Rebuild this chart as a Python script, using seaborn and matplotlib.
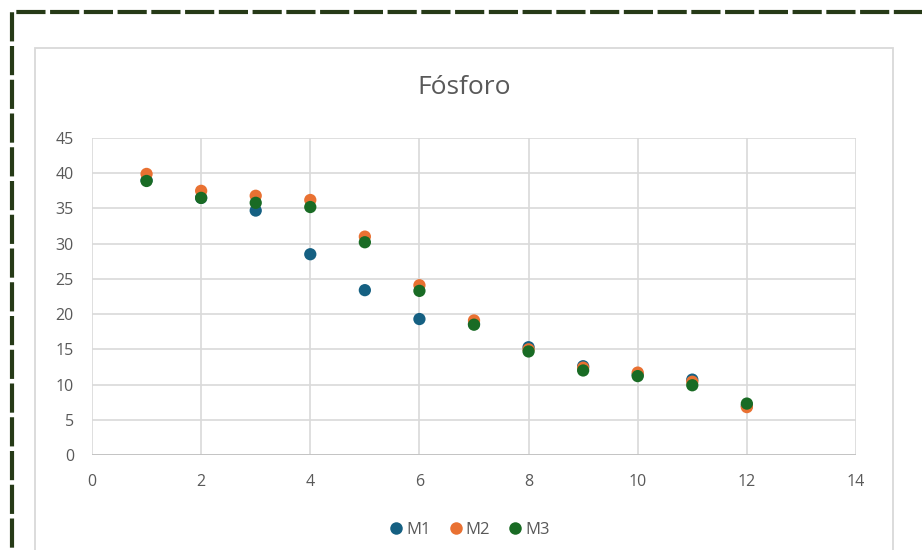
import pandas as pd
import numpy as np
import matplotlib.pyplot as plt
import seaborn as sns
from matplotlib.patches import Rectangle
from matplotlib.lines import Line2D

# --- data ---
x_vals = [1, 2, 3, 4, 5, 6, 7, 8, 9, 10, 11, 12]
m1 = [39.0, 36.5, 34.7, 28.5, 23.4, 19.3, 18.6, 15.3, 12.6, 11.4, 10.7, 7.0]
m2 = [39.9, 37.5, 36.8, 36.2, 31.0, 24.1, 19.1, 15.0, 12.4, 11.7, 10.4, 6.8]
m3 = [38.9, 36.5, 35.8, 35.2, 30.2, 23.3, 18.5, 14.7, 12.0, 11.2, 9.9, 7.3]
series_names = ["M1", "M2", "M3"]
colors = ["#156082", "#E97132", "#196B24"]
title = "Fósforo"

sns.set_theme(style="whitegrid")
plt.rcParams['font.family'] = ['Open Sans', 'DejaVu Sans']

df = pd.DataFrame({
    "x": x_vals * 3,
    "y": m1 + m2 + m3,
    "serie": np.repeat(series_names, len(x_vals)),
})

fig = plt.figure(figsize=(9.22, 5.5), dpi=100)
fig.patch.set_facecolor("white")

# outer dashed frame and chart area border
fig.patches.append(Rectangle((12 / 922, -0.2), 1.2, 1 - 12 / 550 + 0.2,
                             transform=fig.transFigure, fill=False,
                             edgecolor="#263A17", lw=3.0, linestyle=(0, (7, 1.1)),
                             zorder=0))
fig.patches.append(Rectangle((35 / 922, -0.2), (893 - 35) / 922, 1 - 48 / 550 + 0.2,
                             transform=fig.transFigure, fill=False,
                             edgecolor="#D9D9D9", lw=1.3, zorder=0))

ax = fig.add_axes([92 / 922, 95 / 550, (856 - 92) / 922, (455 - 138) / 550])
sns.scatterplot(data=df, x="x", y="y", hue="serie", palette=colors,
                s=78, edgecolor="none", legend=False, ax=ax, zorder=3)

ax.set_xlim(0, 14)
ax.set_ylim(0, 45)
ax.set_xticks(range(0, 15, 2))
ax.set_yticks(range(0, 46, 5))
ax.set_xlabel("")
ax.set_ylabel("")
ax.grid(True, color="#D9D9D9", lw=1.2)
for s in ax.spines.values():
    s.set_visible(False)
ax.axhline(0, color="#BFBFBF", lw=1.2, zorder=2)
ax.tick_params(axis="both", length=0, labelsize=11.5, labelcolor="#595959")
ax.tick_params(axis="y", pad=13)
ax.tick_params(axis="x", pad=14)

fig.text(464 / 922, 1 - 88 / 550, title, ha="center", va="center",
         fontsize=19, color="#595959")

handles = [Line2D([], [], marker="o", linestyle="", markersize=9,
                  markerfacecolor=c, markeredgecolor="none") for c in colors]
fig.legend(handles, series_names, loc="center", bbox_to_anchor=(468 / 922, 1 - 530 / 550),
           ncol=3, frameon=False, fontsize=12, labelcolor="#595959",
           handletextpad=0.0, columnspacing=0.9, handlelength=1.2)

fig.savefig("out.png", dpi=100, facecolor="white")
